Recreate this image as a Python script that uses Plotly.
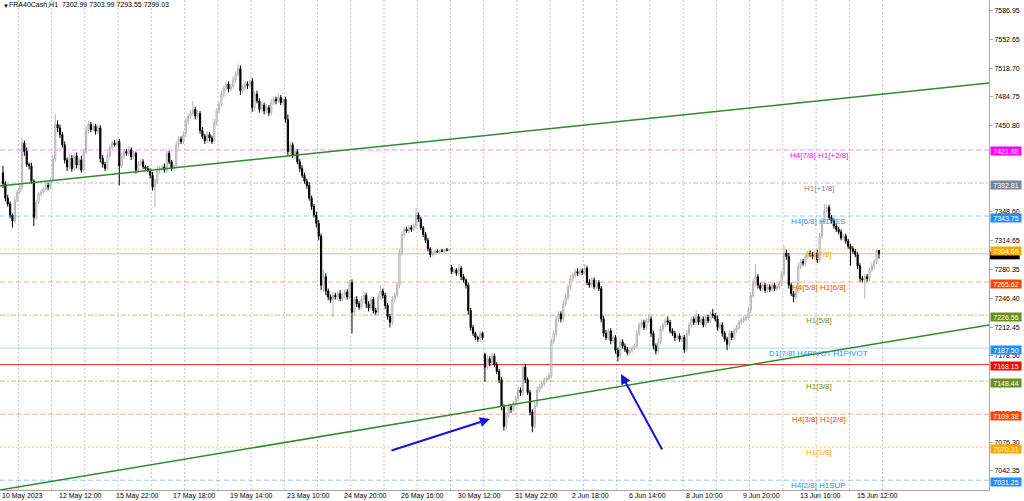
import plotly.graph_objects as go

FONT = "Liberation Sans"

# ---------------- data: H1 closes per trading day ----------------
close_days = [
    [7382, 7365, 7358, 7345, 7338, 7362, 7372],                                                  # 10 May (partial)
    [7378, 7430, 7420, 7405, 7403, 7385, 7342, 7360, 7370, 7372, 7376, 7380, 7378, 7386],        # 11 May
    [7412, 7452, 7448, 7440, 7428, 7410, 7402, 7412, 7400, 7415, 7404, 7410, 7398, 7420],        # 12 May
    [7445, 7452, 7446, 7450, 7444, 7448, 7412, 7405, 7400, 7415, 7425, 7430, 7428, 7432],        # 15 May
    [7403, 7415, 7420, 7418, 7422, 7414, 7418, 7398, 7405, 7408, 7402, 7400, 7398, 7392],        # 16 May
    [7378, 7385, 7398, 7400, 7402, 7398, 7418, 7408, 7400, 7403, 7428, 7435, 7432, 7440],        # 17 May
    [7456, 7462, 7465, 7470, 7462, 7465, 7445, 7438, 7433, 7440, 7436, 7432, 7455, 7468],        # 18 May
    [7476, 7488, 7495, 7500, 7494, 7497, 7505, 7512, 7518, 7492, 7496, 7500, 7498, 7503],        # 19 May
    [7472, 7488, 7480, 7470, 7475, 7468, 7472, 7466, 7478, 7482, 7480, 7484, 7478, 7482],        # 22 May
    [7458, 7420, 7428, 7415, 7420, 7408, 7400, 7392, 7385, 7380, 7365, 7355, 7345, 7335],        # 23 May
    [7320, 7262, 7272, 7255, 7248, 7245, 7250, 7248, 7252, 7246, 7250, 7254, 7248, 7265],        # 24 May
    [7230, 7245, 7240, 7236, 7245, 7250, 7240, 7235, 7245, 7232, 7230, 7248, 7255, 7250],        # 25 May
    [7238, 7225, 7218, 7245, 7250, 7262, 7300, 7322, 7328, 7326, 7330, 7328, 7332, 7345],        # 26 May
    [7340, 7330, 7322, 7315, 7305, 7298, 7300, 7302, 7301, 7303, 7302, 7304, 7303, 7304],        # 29 May
    [7278, 7280, 7276, 7282, 7272, 7268, 7262, 7232, 7212, 7205, 7200, 7198, 7205, 7200],        # 30 May
    [7165, 7175, 7170, 7178, 7168, 7160, 7150, 7118, 7095, 7108, 7118, 7115, 7122, 7128],        # 31 May
    [7138, 7135, 7165, 7150, 7135, 7112, 7095, 7120, 7138, 7142, 7145, 7150, 7152, 7155],        # 1 Jun
    [7195, 7205, 7222, 7228, 7222, 7240, 7248, 7260, 7270, 7274, 7278, 7276, 7279, 7277],        # 2 Jun
    [7282, 7265, 7262, 7268, 7260, 7265, 7258, 7222, 7205, 7200, 7208, 7196, 7200, 7185],        # 5 Jun
    [7178, 7195, 7190, 7186, 7182, 7185, 7188, 7190, 7205, 7215, 7218, 7212, 7220, 7222],        # 6 Jun
    [7205, 7190, 7184, 7195, 7210, 7215, 7220, 7218, 7208, 7205, 7200, 7202, 7198, 7200],        # 7 Jun
    [7186, 7205, 7215, 7222, 7218, 7225, 7218, 7222, 7215, 7224, 7220, 7228, 7226, 7222],        # 8 Jun
    [7212, 7215, 7205, 7198, 7192, 7205, 7200, 7208, 7212, 7218, 7220, 7222, 7224, 7232],        # 9 Jun
    [7250, 7265, 7272, 7262, 7258, 7262, 7256, 7260, 7257, 7262, 7258, 7260, 7264, 7275],        # 12 Jun
    [7300, 7296, 7262, 7252, 7248, 7255, 7284, 7290, 7288, 7296, 7300, 7298, 7296, 7300],        # 13 Jun
    [7292, 7320, 7338, 7350, 7354, 7342, 7338, 7332, 7328, 7325, 7318, 7320, 7314, 7308],        # 14 Jun
    [7305, 7302, 7298, 7285, 7270, 7268, 7272, 7270, 7280, 7285, 7290, 7303, 7299.03],           # 15 Jun
]
# upper wicks (points above max(open, close))
wick_up_days = [
    [8, 3, 4, 3, 2, 5, 3],
    [4, 7, 3, 5, 2, 4, 2, 3, 2, 3, 2, 4, 3, 3],
    [4, 13, 5, 4, 3, 4, 3, 5, 4, 3, 4, 3, 5, 3],
    [5, 4, 3, 4, 3, 4, 3, 4, 3, 4, 3, 3, 4, 3],
    [3, 4, 3, 3, 4, 3, 3, 2, 4, 3, 3, 2, 3, 2],
    [4, 3, 5, 3, 3, 4, 4, 3, 2, 3, 4, 3, 3, 4],
    [4, 3, 4, 10, 3, 4, 3, 4, 3, 4, 3, 3, 4, 3],
    [3, 4, 3, 4, 3, 3, 4, 3, 6, 4, 3, 4, 3, 2],
    [4, 3, 4, 3, 4, 3, 4, 3, 4, 3, 3, 4, 3, 2],
    [3, 6, 4, 3, 4, 3, 3, 4, 3, 3, 4, 3, 3, 4],
    [4, 3, 8, 4, 3, 3, 4, 3, 3, 4, 3, 3, 3, 3],
    [4, 3, 4, 3, 4, 5, 3, 3, 4, 3, 3, 4, 7, 3],
    [3, 3, 3, 4, 3, 4, 5, 4, 3, 3, 3, 3, 3, 8],
    [3, 3, 2, 3, 3, 2, 2, 2, 2, 1, 2, 1, 2, 1],
    [3, 3, 2, 5, 3, 3, 2, 3, 3, 3, 2, 2, 3, 2],
    [2, 4, 3, 4, 3, 3, 3, 3, 3, 4, 4, 3, 3, 3],
    [4, 3, 5, 4, 3, 3, 3, 4, 4, 3, 3, 3, 2, 3],
    [4, 4, 4, 3, 3, 4, 4, 3, 4, 3, 3, 4, 3, 3],
    [5, 3, 4, 3, 3, 3, 3, 3, 4, 4, 3, 3, 3, 3],
    [3, 4, 3, 3, 3, 3, 3, 3, 4, 3, 3, 3, 3, 6],
    [3, 3, 3, 4, 4, 3, 3, 5, 3, 3, 3, 3, 3, 3],
    [3, 4, 3, 3, 3, 7, 3, 3, 3, 3, 3, 3, 6, 3],
    [4, 3, 3, 3, 3, 4, 3, 3, 3, 3, 3, 3, 3, 4],
    [4, 4, 15, 3, 3, 3, 3, 3, 3, 3, 3, 3, 3, 4],
    [9, 4, 4, 3, 3, 3, 4, 3, 3, 3, 3, 3, 3, 3],
    [4, 4, 4, 8, 4, 3, 3, 3, 3, 3, 3, 3, 3, 3],
    [3, 3, 3, 3, 3, 3, 3, 3, 3, 3, 3, 1, 1],
]
# lower wicks (points below min(open, close))
wick_dn_days = [
    [5, 4, 3, 4, 8, 3, 2],
    [3, 4, 5, 3, 4, 3, 10, 3, 2, 3, 2, 3, 4, 2],
    [3, 4, 5, 4, 3, 4, 5, 3, 4, 3, 4, 5, 3, 2],
    [3, 4, 3, 2, 4, 3, 5, 4, 3, 3, 2, 3, 2, 3],
    [23, 3, 4, 3, 3, 4, 3, 4, 3, 2, 3, 3, 2, 4],
    [4, 24, 3, 4, 3, 3, 4, 3, 3, 2, 3, 4, 3, 3],
    [3, 4, 3, 3, 4, 3, 4, 3, 4, 3, 4, 3, 3, 4],
    [3, 3, 4, 3, 4, 3, 3, 4, 3, 5, 3, 3, 4, 3],
    [5, 4, 3, 4, 3, 4, 3, 4, 3, 3, 4, 3, 3, 3],
    [4, 5, 4, 3, 4, 3, 4, 3, 3, 4, 3, 4, 3, 5],
    [5, 6, 8, 5, 4, 4, 21, 3, 4, 3, 3, 4, 3, 3],
    [25, 3, 4, 3, 3, 4, 5, 4, 3, 4, 3, 3, 3, 4],
    [4, 4, 6, 3, 4, 3, 4, 3, 3, 2, 3, 3, 2, 3],
    [3, 3, 3, 3, 3, 3, 2, 2, 1, 2, 1, 2, 1, 1],
    [3, 3, 3, 3, 4, 3, 4, 5, 4, 3, 3, 3, 3, 3],
    [17, 3, 4, 3, 3, 3, 4, 4, 5, 3, 3, 4, 3, 3],
    [3, 4, 4, 4, 3, 4, 7, 3, 3, 3, 3, 3, 3, 3],
    [3, 3, 4, 4, 4, 3, 3, 4, 3, 3, 3, 3, 3, 3],
    [3, 3, 3, 3, 3, 3, 3, 4, 4, 3, 3, 4, 3, 4],
    [6, 3, 3, 3, 3, 3, 3, 3, 3, 3, 3, 3, 3, 3],
    [4, 4, 4, 3, 3, 3, 3, 3, 3, 3, 4, 3, 3, 3],
    [4, 3, 3, 3, 3, 3, 3, 3, 3, 3, 3, 3, 3, 3],
    [4, 3, 4, 3, 7, 3, 3, 3, 3, 3, 3, 3, 3, 3],
    [3, 3, 4, 4, 3, 3, 3, 3, 3, 3, 3, 3, 3, 3],
    [3, 4, 4, 3, 6, 3, 3, 3, 3, 3, 3, 3, 3, 4],
    [4, 3, 3, 3, 3, 3, 3, 3, 3, 3, 3, 3, 3, 3],
    [20, 3, 3, 4, 4, 3, 22, 4, 3, 3, 3, 3, 5.48],
]
first_open = 7395
open_gaps = {189: 7283, 203: 7180, 369: 7302.99}   # session-open gaps

# time-axis labels (bar index, text)
time_label_idx = [0, 24, 48, 72, 96, 120, 144, 168, 192, 216, 240, 264, 288, 312, 336, 360]
time_labels = ["10 May 2023", "12 May 12:00", "15 May 22:00", "17 May 18:00", "19 May 14:00",
               "23 May 10:00", "24 May 20:00", "26 May 16:00", "30 May 12:00", "31 May 22:00",
               "2 Jun 18:00", "6 Jun 14:00", "8 Jun 10:00", "9 Jun 20:00", "13 Jun 16:00",
               "15 Jun 12:00"]

# right price scale ticks
price_ticks = [7586.95, 7552.65, 7518.70, 7484.75, 7450.80, 7348.60, 7314.65, 7280.35,
               7246.40, 7212.45, 7178.50, 7110.35, 7076.30, 7042.35]

# Murrey-math style levels
level_prices = [7421.88, 7382.81, 7343.75, 7304.69, 7265.62, 7226.56, 7187.50, 7168.15,
                7148.44, 7109.38, 7070.31, 7031.25]
level_texts = ["H4[7/8] H1[+2/8]", "H1[+1/8]", "H4[6/8] H1RES", "H1[7/8]", "H4[5/8] H1[6/8]",
               "H1[5/8]", "D1[7/8] H4PIVOT H1PIVOT", "", "H1[3/8]", "H4[3/8] H1[2/8]",
               "H1[1/8]", "H4[2/8] H1SUP"]
level_colors = ["#ff00ff", "#778899", "#1e90ff", "#ffa500", "#ff4500", "#6b8e23",
                "#1e90ff", "#ff0000", "#6b8e23", "#ff4500", "#ffa500", "#1e90ff"]
level_dash = ["5px,3px", "5px,2px,2px,2px", "5px,3px", "2px,2px", "5px,3px", "5px,2px,2px,2px",
              "solid", "solid", "5px,2px,2px,2px", "5px,3px", "2px,2px", "5px,3px"]
level_opacity = [0.45, 0.5, 0.45, 0.5, 0.45, 0.5, 0.35, 0.8, 0.5, 0.45, 0.5, 0.45]
label_x_idx = 343.7

bid_price = 7299.03

# trend lines (bar index, price) anchors
trend_up_x = [-1.26, 415.34]
trend_up_y = [7379.3, 7501.1]
trend_dn_x = [-1.26, 415.34]
trend_dn_y = [7019.7, 7214.9]

# arrows: (tail_idx, tail_price, head_idx, head_price)
arrows = [(163.0, 7065.8, 205.1, 7103.7), (278.0, 7065.8, 260.3, 7156.9)]

header = "FRA40Cash,H1\u00a0\u00a07302.99 7303.99 7293.55 7299.03"

# ---------------- build OHLC ----------------
closes = [c for d in close_days for c in d]
wu = [w for d in wick_up_days for w in d]
wd = [w for d in wick_dn_days for w in d]
assert len(closes) == len(wu) == len(wd)
opens = []
prev = first_open
for i, c in enumerate(closes):
    opens.append(open_gaps.get(i, prev))
    prev = c
highs = [max(o, c) + u for o, c, u in zip(opens, closes, wu)]
lows = [min(o, c) - d for o, c, d in zip(opens, closes, wd)]
xs = list(range(len(closes)))

# day boundaries for vertical grid
day_starts = []
s = 0
for d in close_days:
    day_starts.append(s)
    s += len(d)
grid_idx = [v - 0.5 for v in day_starts[1:]] + [day_starts[-1] + 14 - 0.5]

fig = go.Figure()
fig.add_trace(go.Candlestick(
    x=xs, open=opens, high=highs, low=lows, close=closes,
    increasing=dict(line=dict(color="#b4b4b4", width=1), fillcolor="#ffffff"),
    decreasing=dict(line=dict(color="#000000", width=1), fillcolor="#000000"),
    whiskerwidth=0, hoverinfo="skip", showlegend=False))

fig.add_trace(go.Scatter(x=trend_up_x, y=trend_up_y, mode="lines",
                         line=dict(color="#2e8b2e", width=1.5), hoverinfo="skip", showlegend=False))
fig.add_trace(go.Scatter(x=trend_dn_x, y=trend_dn_y, mode="lines",
                         line=dict(color="#2e8b2e", width=1.5), hoverinfo="skip", showlegend=False))

shapes = []
for g in grid_idx:
    shapes.append(dict(type="line", xref="x", yref="paper", x0=g, x1=g, y0=0, y1=1,
                       line=dict(color="#c8c8c8", width=1, dash="2px,2px"), layer="below"))
shapes.append(dict(type="line", xref="paper", yref="y", x0=0, x1=1, y0=bid_price, y1=bid_price,
                   line=dict(color="#c4c4c4", width=1), layer="below"))
for p, col, dsh, op in zip(level_prices, level_colors, level_dash, level_opacity):
    shapes.append(dict(type="line", xref="paper", yref="y", x0=0, x1=1, y0=p, y1=p,
                       line=dict(color=col, width=1, dash=dsh), opacity=op, layer="below"))
# bid price marker on the price scale (mostly hidden under the 7304.69 box)
shapes.append(dict(type="rect", xref="paper", yref="y", x0=1.001, x1=1.031,
                   y0=bid_price - 6.5, y1=bid_price + 3.0, fillcolor="#000000",
                   line=dict(width=0), layer="above"))

ann = []
# header
ann.append(dict(xref="paper", yref="paper", x=0, y=1, xanchor="left", yanchor="top",
                text="\u25bc", showarrow=False, font=dict(family=FONT, size=6, color="#000"),
                xshift=1, yshift=-1))
ann.append(dict(xref="paper", yref="paper", x=0, y=1, xanchor="left", yanchor="top",
                text=header, showarrow=False, font=dict(family=FONT, size=7, color="#000"),
                xshift=8, yshift=0, borderpad=0))
# level labels
for p, t, col in zip(level_prices, level_texts, level_colors):
    if t:
        ann.append(dict(xref="x", yref="y", x=label_x_idx, y=p, xanchor="center", yanchor="top",
                        text=t, showarrow=False, borderpad=0,
                        font=dict(family=FONT, size=8, color=col)))
# price boxes on the right axis
for p, col in zip(level_prices, level_colors):
    ann.append(dict(xref="paper", yref="y", x=1, y=p, xanchor="left", yanchor="middle",
                    text="%.2f" % p, showarrow=False, bgcolor=col, width=30, height=8,
                    borderpad=0, font=dict(family=FONT, size=7, color="#ffffff"),
                    xshift=1, yshift=-1.5))
# time labels
for i, t in zip(time_label_idx, time_labels):
    ann.append(dict(xref="x", yref="paper", x=i, y=0, xanchor="left", yanchor="top",
                    text=t, showarrow=False, borderpad=0, xshift=-2, yshift=-1,
                    font=dict(family=FONT, size=7, color="#000")))
# arrows
for tx, ty, hx, hy in arrows:
    ann.append(dict(xref="x", yref="y", x=hx, y=hy, axref="x", ayref="y", ax=tx, ay=ty,
                    text="", showarrow=True, arrowhead=2, arrowsize=1, arrowwidth=2,
                    arrowcolor="#1414d8", standoff=0))

fig.update_layout(
    width=1024, height=501,
    margin=dict(l=0, r=35, t=0, b=11),
    paper_bgcolor="#ffffff", plot_bgcolor="#ffffff",
    shapes=shapes, annotations=ann,
    font=dict(family=FONT, size=7, color="#000"),
    xaxis=dict(range=[-1.26, 415.34], showticklabels=False, showgrid=False, zeroline=False,
               showline=True, mirror=True, linecolor="#a8a8a8", linewidth=1,
               rangeslider=dict(visible=False), fixedrange=True, automargin=False),
    yaxis=dict(range=[7019.7, 7599.3], side="right", tickvals=price_ticks,
               ticktext=["%.2f" % v for v in price_ticks], showgrid=False, zeroline=False,
               showline=True, mirror=True, linecolor="#a8a8a8", linewidth=1,
               ticks="outside", ticklen=3, tickcolor="#a8a8a8", automargin=False,
               tickfont=dict(family=FONT, size=7, color="#000"), fixedrange=True),
)

fig.write_html("out.html", config={"displayModeBar": False},
               post_script="document.body.style.margin='0px';document.body.style.overflow='hidden';")
